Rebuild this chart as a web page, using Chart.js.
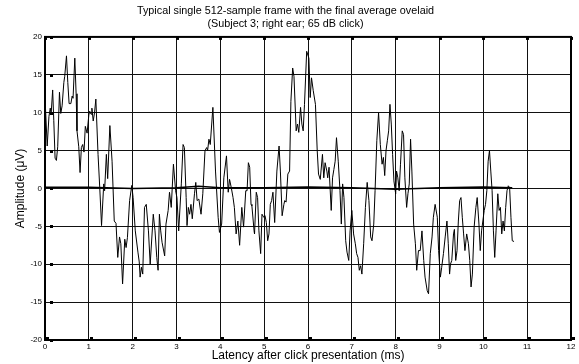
<!DOCTYPE html>
<html>
<head>
<meta charset="utf-8">
<script src="https://cdn.jsdelivr.net/npm/chart.js@4/dist/chart.umd.min.js"></script>
<style>
  html, body { margin: 0; padding: 0; background: #fff; }
  #wrap { width: 579px; height: 364px; }
</style>
</head>
<body>
<div id="wrap"><canvas id="chart" width="579" height="364"></canvas></div>
<script>
// single frame, latency (ms) and amplitude (uV)
var frameMs = [
  0.00, 0.05, 0.09, 0.12, 0.14, 0.175, 0.20, 0.23, 0.26, 0.29, 0.33, 0.36, 0.39, 0.43, 0.45, 0.49,
  0.52, 0.55, 0.59, 0.62, 0.64, 0.68, 0.71, 0.73, 0.77, 0.80, 0.83, 0.86, 0.89, 0.92, 0.96, 1.00,
  1.02, 1.05, 1.07, 1.10, 1.13, 1.16, 1.21, 1.25, 1.29, 1.34, 1.36, 1.40, 1.43, 1.48, 1.53, 1.58,
  1.62, 1.66, 1.70, 1.73, 1.77, 1.82, 1.85, 1.88, 1.93, 1.98, 2.01, 2.06,
  2.12, 2.15, 2.17, 2.20, 2.23, 2.27, 2.31, 2.36, 2.40, 2.47, 2.51, 2.55, 2.58, 2.61, 2.64, 2.67,
  2.73, 2.76, 2.81, 2.84, 2.88, 2.93, 2.98, 3.01, 3.05, 3.11, 3.15, 3.18, 3.22, 3.24, 3.27, 3.30,
  3.33, 3.36, 3.41, 3.44, 3.47, 3.51, 3.56, 3.60, 3.65, 3.69, 3.71, 3.74, 3.77, 3.83, 3.89, 3.95,
  3.98, 4.03, 4.08, 4.14, 4.18,
  4.21, 4.25, 4.29, 4.32, 4.36, 4.40, 4.44, 4.49, 4.53, 4.58, 4.61, 4.64, 4.67, 4.70, 4.72, 4.77,
  4.78, 4.82, 4.85, 4.88, 4.92, 4.95, 4.99, 5.02, 5.05, 5.08, 5.11, 5.14, 5.17, 5.20, 5.24, 5.29,
  5.34, 5.37, 5.41, 5.45, 5.47, 5.50, 5.54, 5.58, 5.61, 5.65, 5.68, 5.73, 5.76, 5.79, 5.83, 5.86,
  5.89, 5.92, 5.97, 6.02, 6.05, 6.08, 6.12, 6.17, 6.21, 6.24, 6.28,
  6.33, 6.36, 6.39, 6.43, 6.45, 6.48, 6.53, 6.56, 6.59, 6.62, 6.65, 6.69, 6.73, 6.76, 6.79, 6.82,
  6.86, 6.89, 6.93, 6.96, 7.00, 7.04, 7.08, 7.11, 7.14, 7.17, 7.20, 7.23, 7.27, 7.31, 7.35, 7.39,
  7.43, 7.46, 7.50, 7.53, 7.57, 7.61, 7.65, 7.69, 7.72, 7.75, 7.78, 7.81, 7.84, 7.87, 7.90, 7.93,
  7.96, 8.00, 8.02, 8.05, 8.08, 8.11, 8.15, 8.18, 8.21, 8.25, 8.28, 8.31, 8.34, 8.37, 8.41, 8.45,
  8.48, 8.52, 8.56, 8.60, 8.64, 8.67, 8.72, 8.75, 8.79, 8.83, 8.86, 8.90, 8.95, 8.98, 9.02, 9.05,
  9.09, 9.13, 9.17, 9.20, 9.23, 9.25, 9.28, 9.32, 9.34, 9.37, 9.40, 9.43, 9.46, 9.49, 9.52, 9.55,
  9.58, 9.62, 9.66, 9.69, 9.72, 9.75, 9.79, 9.83, 9.86, 9.90, 9.93, 9.96, 10.00, 10.02, 10.05, 10.08,
  10.11, 10.14, 10.17, 10.20, 10.23, 10.26, 10.29, 10.33, 10.36, 10.39, 10.42, 10.45, 10.48, 10.51, 10.54, 10.57,
  10.60, 10.63, 10.66, 10.70
];
var frameUv = [
  12.0, 5.6, 9.5, 10.6, 9.8, 13.0, 9.0, 4.0, 3.7, 5.5, 12.7, 9.9, 10.9, 14.0, 14.8, 17.5,
  14.0, 11.2, 11.2, 12.2, 11.9, 17.2, 12.5, 7.6, 5.5, 2.1, 5.4, 5.8, 4.8, 8.2, 7.3, 9.7,
  10.2, 9.8, 10.6, 8.9, 10.0, 11.8, 4.5, 0.0, -4.9, 0.6, -0.3, 4.5, 1.3, 8.3, 3.6, -4.3,
  -4.6, -9.1, -6.4, -7.3, -12.6, -6.7, -7.8, -6.5, -1.6, 0.4, -1.2, -5.6,
  -8.4, -9.7, -11.7, -10.4, -11.3, -2.5, -2.1, -5.6, -10.0, -3.4, -5.6, -9.1, -10.8, -3.4, -5.6, -7.1,
  -8.9, -4.7, -2.9, -0.5, -2.5, 3.2, -0.3, -1.2, -5.6, 0.6, 5.8, 5.4, -1.2, -4.9, -2.5, -3.4,
  -2.1, -4.0, -0.7, 0.8, -1.6, -1.4, -3.4, -0.7, 5.0, 5.4, 5.0, 6.5, 5.8, 10.7, 2.3, -3.8,
  -5.8, -4.7, 1.4, 4.3, -0.5,
  1.2, 0.1, -1.2, -2.5, -6.0, -4.3, -7.5, -2.5, -5.1, -0.3, -0.3, 3.4, 2.8, -2.1, -2.3, -5.6,
  -6.0, -0.5, -1.2, -5.6, -8.6, -3.4, -3.8, -3.6, -4.5, -6.9, -6.0, -2.1, -1.6, -0.5, -4.5, 2.3,
  5.6, 2.3, -3.6, -2.1, -1.6, -1.8, 1.9, 2.3, 11.5, 15.9, 14.8, 7.6, 8.5, 7.4, 10.7, 8.5,
  7.6, 11.1, 18.1, 17.2, 12.0, 14.6, 12.9, 11.1, 5.0, 1.9, 1.2,
  4.5, 1.4, 3.4, 2.3, 1.4, 2.8, -2.9, 1.4, 2.5, 3.6, 6.7, 3.6, -0.3, -4.7, 0.6, -1.2,
  -6.9, -8.4, -9.5, -5.6, -2.9, -6.0, -7.3, -8.6, -9.1, -10.8, -10.2, -11.3, -7.3, -2.5, 0.8, -1.6,
  -6.4, -6.9, -4.7, -0.3, 6.3, 10.0, 5.8, 3.2, 4.1, 1.7, 5.0, 6.3, 7.6, 11.1, 8.5, 4.5,
  1.0, -0.7, 2.3, 1.4, -0.3, 3.2, 7.6, 7.1, 1.4, -2.5, -0.7, 0.6, 6.5, 2.3, -4.7, -7.3,
  -10.8, -8.2, -8.2, -5.6, -9.5, -11.7, -13.5, -13.9, -8.6, -6.4, -3.8, -2.1, -3.8, -8.2, -11.7, -10.4,
  -8.6, -6.4, -4.3, -7.3, -11.3, -10.0, -9.5, -6.0, -5.4, -9.5, -8.2, -4.3, -1.6, -1.2, -3.8, -6.0,
  -8.2, -6.0, -7.3, -9.5, -13.0, -11.3, -5.1, -2.5, -1.2, -4.7, -8.2, -5.6, -3.8, -2.9, -2.1, -0.3,
  3.6, 5.0, 2.3, -0.3, -5.6, -9.1, -5.6, -0.7, -2.9, -2.5, -6.0, -4.3, -5.6, -2.5, -0.3, 0.35,
  0.1, -3.8, -6.9, -7.0
];
// final average (nearly flat)
var avgMs = [0, 1, 2, 3, 3.5, 4, 5, 6, 7, 8, 9, 10, 10.66];
var avgUv = [0.15, 0.15, 0.0, 0.1, 0.3, 0.1, 0.1, 0.2, 0.1, -0.1, 0.1, 0.2, 0.1];

var xTicks = [0, 1, 2, 3, 4, 5, 6, 7, 8, 9, 10, 11, 12];
var yTicks = [-20, -15, -10, -5, 0, 5, 10, 15, 20];
var titleLines = ['Typical single 512-sample frame with the final average ovelaid',
                  '(Subject 3; right ear; 65 dB click)'];

var fontFamily = 'Liberation Sans, Arial, sans-serif';

function toPoints(xs, ys) {
  return xs.map(function(x, i) { return { x: x, y: ys[i] }; });
}

// box round the plot and the small square tick marks
var boxPlugin = {
  id: 'box',
  afterDraw: function(chart) {
    var ctx = chart.ctx, a = chart.chartArea;
    var xs = chart.scales.x, ys = chart.scales.y;
    ctx.save();
    ctx.strokeStyle = '#000';
    ctx.lineWidth = 2;
    ctx.strokeRect(a.left, a.top, a.right - a.left, a.bottom - a.top);
    ctx.fillStyle = '#000';
    xTicks.forEach(function(t) {
      var px = Math.round(xs.getPixelForValue(t));
      ctx.fillRect(px - 1, a.top, 3, 3);
      ctx.fillRect(px + 1, a.bottom - 3, 3, 3);
    });
    yTicks.forEach(function(t) {
      var py = Math.round(ys.getPixelForValue(t));
      ctx.fillRect(a.left + 5, py - 1, 3, 3);
    });
    ctx.restore();
  }
};

var ctx = document.getElementById('chart').getContext('2d');
var myChart = new Chart(ctx, {
  type: 'line',
  data: {
    datasets: [{
      label: 'average',
      data: toPoints(avgMs, avgUv),
      borderColor: '#000',
      borderWidth: 1.6,
      pointRadius: 0,
      tension: 0
    }, {
      label: 'frame',
      data: toPoints(frameMs, frameUv),
      borderColor: '#000',
      borderWidth: 1,
      pointRadius: 0,
      tension: 0
    }]
  },
  options: {
    responsive: false,
    animation: false,
    layout: { padding: { left: 0, right: 8, top: 0, bottom: 0 } },
    plugins: {
      legend: { display: false },
      tooltip: { enabled: false },
      title: {
        display: true,
        text: titleLines,
        color: '#000',
        font: { family: fontFamily, size: 10.8, weight: 'normal', lineHeight: 1.2 },
        padding: { top: 5, bottom: 6 }
      }
    },
    scales: {
      x: {
        type: 'linear',
        min: 0, max: 12,
        afterBuildTicks: function(s) { s.ticks = xTicks.map(function(v) { return { value: v }; }); },
        afterFit: function(s) { s.height = 24; },
        ticks: {
          color: '#000', padding: 2, maxRotation: 0, autoSkip: false,
          font: { family: fontFamily, size: 8 }
        },
        grid: { color: '#111', lineWidth: 1, drawTicks: false },
        border: { display: false },
        title: {
          display: true,
          text: 'Latency after click presentation (ms)',
          color: '#000',
          font: { family: fontFamily, size: 12 },
          padding: { top: 0, bottom: 1 }
        }
      },
      y: {
        min: -20, max: 20,
        afterBuildTicks: function(s) { s.ticks = yTicks.map(function(v) { return { value: v }; }); },
        afterFit: function(s) { s.width = 45; },
        ticks: {
          color: '#000', padding: 3, autoSkip: false,
          font: { family: fontFamily, size: 8 }
        },
        grid: { color: '#111', lineWidth: 1, drawTicks: false },
        border: { display: false },
        title: {
          display: true,
          text: 'Amplitude (\u03bcV)',
          color: '#000',
          font: { family: fontFamily, size: 12 },
          padding: { top: 13, bottom: 0 }
        }
      }
    }
  },
  plugins: [boxPlugin]
});
</script>
</body>
</html>
